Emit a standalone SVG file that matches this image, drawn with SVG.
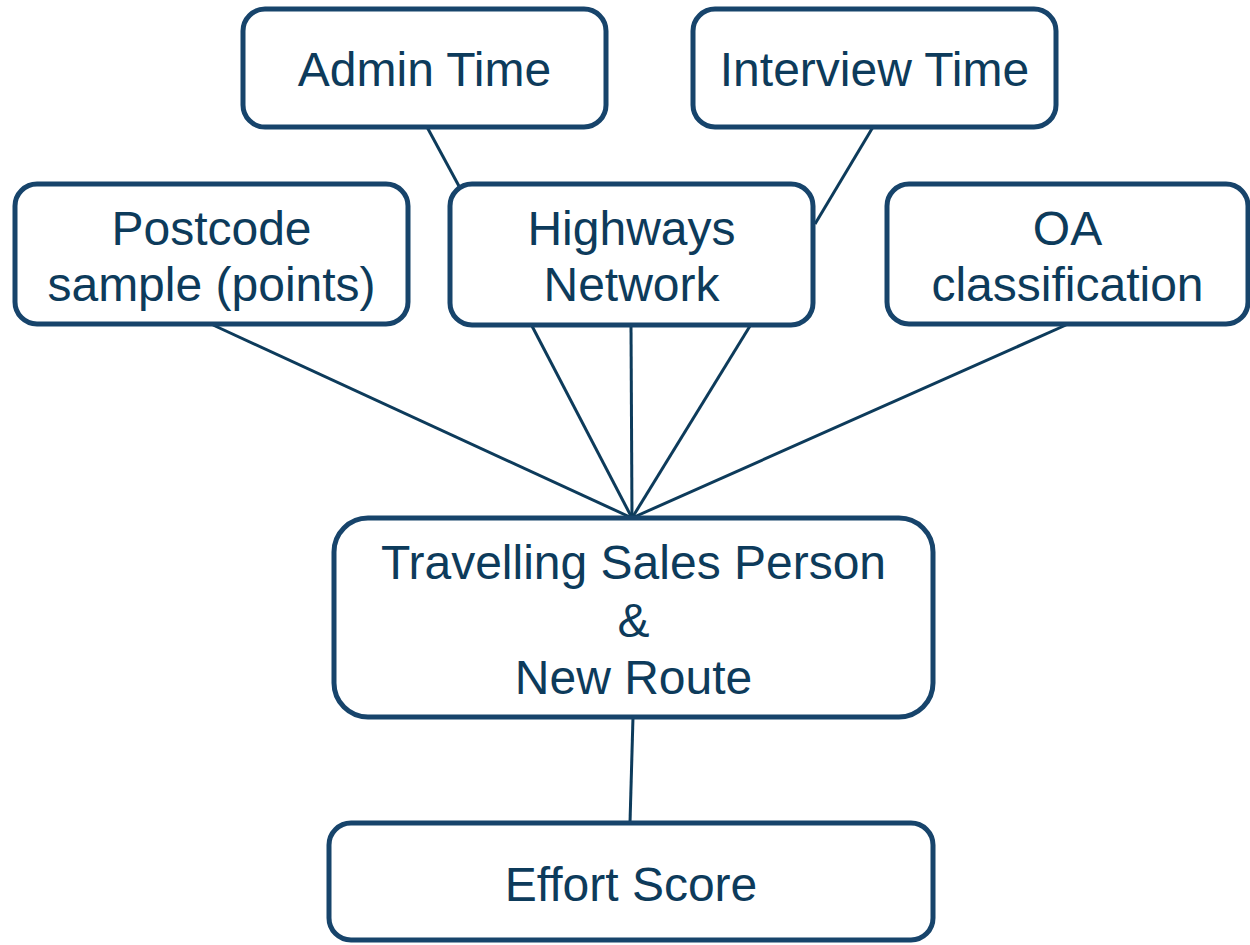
<svg xmlns="http://www.w3.org/2000/svg" width="1250" height="945" viewBox="0 0 1250 945">
<style>
.box{fill:#ffffff;stroke:#17446b;stroke-width:5}
.lbl{font-family:"Liberation Sans",Arial,sans-serif;font-size:48px;fill:#0d3b5b;text-anchor:middle}
.con{stroke:#0d3b5b;stroke-width:3;fill:none}
</style>
<rect width="1250" height="945" fill="#ffffff"/>
<g id="connectors">
<line class="con" x1="427" y1="127" x2="460" y2="188"/>
<line class="con" x1="873" y1="127" x2="815" y2="224"/>
<line class="con" x1="213" y1="325" x2="632" y2="518"/>
<line class="con" x1="532" y1="326" x2="632" y2="518"/>
<line class="con" x1="631" y1="326" x2="632" y2="518"/>
<line class="con" x1="750" y1="326" x2="632" y2="518"/>
<line class="con" x1="1066" y1="325" x2="632" y2="518"/>
<line class="con" x1="633" y1="717" x2="630" y2="823"/>
</g>
<g id="admin">
<rect class="box" x="243" y="9" width="363" height="118" rx="22"/>
<text class="lbl" x="424.5" y="86">Admin Time</text>
</g>
<g id="interview">
<rect class="box" x="693" y="9" width="363" height="118" rx="22"/>
<text class="lbl" x="874.5" y="86">Interview Time</text>
</g>
<g id="postcode">
<rect class="box" x="15" y="184" width="393" height="140" rx="22"/>
<text class="lbl" x="211.5" y="245">Postcode</text>
<text class="lbl" x="211.5" y="301">sample (points)</text>
</g>
<g id="highways">
<rect class="box" x="450" y="184" width="363" height="141" rx="22"/>
<text class="lbl" x="631.5" y="245">Highways</text>
<text class="lbl" x="631.5" y="301">Network</text>
</g>
<g id="oa">
<rect class="box" x="887" y="184" width="361" height="140" rx="22"/>
<text class="lbl" x="1067.5" y="245">OA</text>
<text class="lbl" x="1067.5" y="301">classification</text>
</g>
<g id="tsp">
<rect class="box" x="334" y="518" width="599" height="199" rx="34"/>
<text class="lbl" x="633.5" y="579">Travelling Sales Person</text>
<text class="lbl" x="633.5" y="637">&amp;</text>
<text class="lbl" x="633.5" y="694">New Route</text>
</g>
<g id="effort">
<rect class="box" x="329" y="823" width="604" height="117" rx="22"/>
<text class="lbl" x="631" y="901">Effort Score</text>
</g>
</svg>
